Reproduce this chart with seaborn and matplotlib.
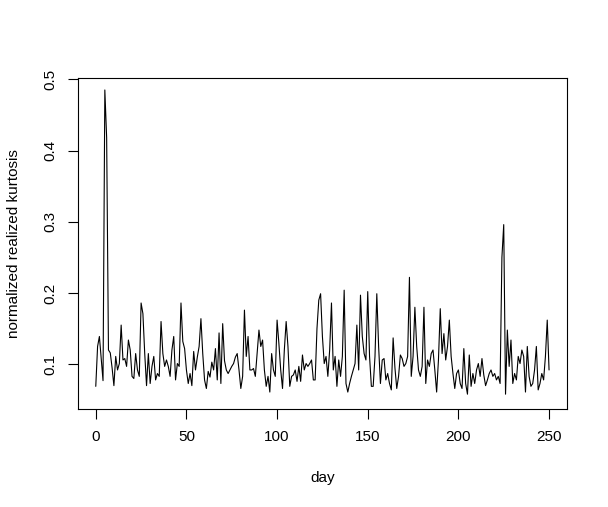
import numpy as np
import matplotlib
matplotlib.use("Agg")
import matplotlib.pyplot as plt
import seaborn as sns

# normalized realized kurtosis per day
kurtosis = [
    0.069, 0.125, 0.139, 0.108, 0.077, 0.485, 0.418, 0.120, 0.116, 0.095,
    0.070, 0.111, 0.092, 0.101, 0.155, 0.106, 0.108, 0.097, 0.134, 0.120,
    0.083, 0.080, 0.115, 0.092, 0.083, 0.186, 0.171, 0.115, 0.070, 0.115,
    0.073, 0.097, 0.111, 0.078, 0.087, 0.083, 0.160, 0.115, 0.097, 0.106,
    0.097, 0.083, 0.120, 0.139, 0.078, 0.101, 0.097, 0.186, 0.132, 0.122,
    0.092, 0.073, 0.087, 0.070, 0.118, 0.092, 0.110, 0.125, 0.164, 0.115,
    0.078, 0.066, 0.090, 0.082, 0.103, 0.092, 0.122, 0.078, 0.144, 0.073,
    0.157, 0.105, 0.092, 0.087, 0.092, 0.097, 0.101, 0.110, 0.115, 0.092,
    0.066, 0.083, 0.176, 0.111, 0.139, 0.092, 0.092, 0.094, 0.083, 0.115,
    0.148, 0.125, 0.134, 0.092, 0.069, 0.083, 0.061, 0.115, 0.092, 0.083,
    0.162, 0.129, 0.092, 0.066, 0.120, 0.160, 0.125, 0.069, 0.083, 0.085,
    0.092, 0.076, 0.097, 0.076, 0.113, 0.092, 0.101, 0.097, 0.101, 0.106,
    0.078, 0.078, 0.150, 0.190, 0.199, 0.139, 0.101, 0.111, 0.083, 0.120,
    0.186, 0.092, 0.111, 0.069, 0.106, 0.083, 0.111, 0.204, 0.073, 0.061,
    0.073, 0.083, 0.092, 0.101, 0.155, 0.092, 0.197, 0.139, 0.115, 0.106,
    0.202, 0.111, 0.069, 0.069, 0.111, 0.199, 0.125, 0.073, 0.106, 0.108,
    0.078, 0.087, 0.073, 0.064, 0.137, 0.095, 0.066, 0.083, 0.113, 0.108,
    0.097, 0.101, 0.111, 0.222, 0.083, 0.111, 0.180, 0.125, 0.092, 0.083,
    0.097, 0.180, 0.073, 0.106, 0.097, 0.115, 0.120, 0.092, 0.061, 0.106,
    0.178, 0.115, 0.143, 0.106, 0.125, 0.162, 0.111, 0.087, 0.066, 0.087,
    0.092, 0.073, 0.066, 0.122, 0.073, 0.058, 0.113, 0.069, 0.087, 0.073,
    0.092, 0.101, 0.083, 0.108, 0.085, 0.070, 0.078, 0.087, 0.092, 0.083,
    0.087, 0.078, 0.083, 0.073, 0.250, 0.296, 0.058, 0.148, 0.097, 0.134,
    0.073, 0.087, 0.078, 0.111, 0.101, 0.120, 0.111, 0.061, 0.125, 0.083,
    0.069, 0.073, 0.092, 0.125, 0.064, 0.073, 0.087, 0.078, 0.111, 0.162,
    0.092,
]
day = np.arange(len(kurtosis))

x_ticks = [0, 50, 100, 150, 200, 250]
y_ticks = [0.1, 0.2, 0.3, 0.4, 0.5]

sns.set_style("ticks")
plt.rcParams['font.family'] = ['Liberation Sans', 'DejaVu Sans']

W, H = 608, 507
fig = plt.figure(figsize=(W / 100, H / 100), dpi=100)
# plot box in pixels: left 78, right 567, top 78, bottom 409
ax = fig.add_axes([78 / W, 1 - 409 / H, (567 - 78) / W, (409 - 78) / H])

sns.lineplot(x=day, y=kurtosis, color='black', linewidth=0.8, ax=ax)

ax.set_xlim(-9.8, 259.9)
ax.set_ylim(0.0372, 0.5018)
ax.set_xticks(x_ticks)
ax.set_xticklabels([str(t) for t in x_ticks])
ax.set_yticks(y_ticks)
ax.set_yticklabels([f"{t:g}" for t in y_ticks])

for sp in ax.spines.values():
    sp.set_visible(True)
    sp.set_color('black')
    sp.set_linewidth(0.8)

ax.tick_params(axis='both', direction='out', length=7, width=0.8,
               color='black', labelcolor='black', labelsize=11, pad=8)
ax.tick_params(axis='y', labelrotation=90)
for lab in ax.get_yticklabels():
    lab.set_va('center')

ax.set_xlabel('day', fontsize=11, color='black')
ax.set_ylabel('normalized realized kurtosis', fontsize=11, color='black')
ax.xaxis.set_label_coords(0.5, (409 - 478) / 331)
ax.xaxis.label.set_va('center')
ax.yaxis.set_label_coords((14 - 78) / 489, 0.5)
ax.yaxis.label.set_va('center')

fig.savefig('out.png', dpi=100, facecolor='white')
